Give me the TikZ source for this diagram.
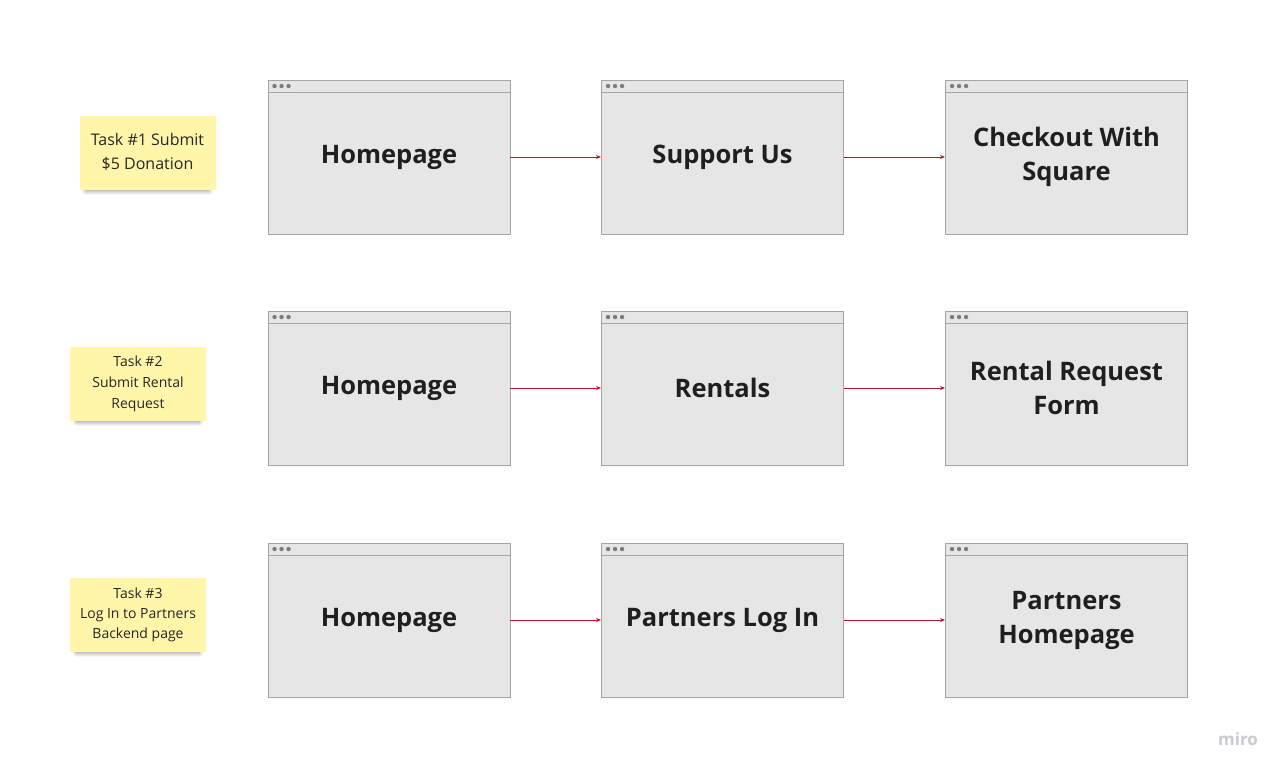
\documentclass[tikz,border=0pt]{standalone}
\usepackage{fontspec}
\setmainfont{Open Sans}
\usetikzlibrary{shadows.blur,arrows.meta}
\definecolor{pagegray}{RGB}{230,230,230}
\definecolor{framegray}{RGB}{165,165,165}
\definecolor{dotgray}{RGB}{125,125,125}
\definecolor{stickyyellow}{RGB}{255,246,170}
\definecolor{linkred}{RGB}{180,25,35}
\definecolor{mirogray}{RGB}{200,202,210}

\tikzset{
	page/.style={draw=framegray, fill=pagegray, line width=0.9pt, minimum width=242pt,
		minimum height=154pt, inner sep=0pt, align=center, text=black!88,
		font=\fontsize{25.5}{34}\selectfont\bfseries},
	sticky/.style={fill=stickyyellow, minimum width=136pt, minimum height=74pt, inner sep=2pt,
		align=center, text=black!85,
		blur shadow={shadow xshift=0pt, shadow yshift=-5pt, shadow scale=0.9,
			shadow opacity=45, shadow blur radius=5pt, shadow blur steps=12}},
	link/.style={draw=linkred, line width=0.8pt, -{Stealth[length=5pt,width=4pt]}}
}

\begin{document}
\begin{tikzpicture}[x=1pt,y=-1pt]
	\useasboundingbox (0,0) rectangle (1288,776);
	% task notes
	\node[sticky, font=\fontsize{16}{24}\selectfont] (task1) at (147.5,153) {Task \#1 Submit\\\$5 Donation\vphantom{p}};
	\node[sticky, font=\fontsize{14}{21}\selectfont] (task2) at (138,384) {Task \#2\\Submit Rental\\Request};
	\node[sticky, font=\fontsize{14}{20}\selectfont] (task3) at (138,615) {Task \#3\\Log In to Partners\\Backend page};
	% row 1
	\node[page] (home1) at (389,157) {Homepage};
	\node[page] (support) at (722.5,157) {Support Us};
	\node[page] (checkout) at (1066.5,157) {Checkout With\\Square};
	% row 2
	\node[page] (home2) at (389,388) {Homepage};
	\node[page] (rentals) at (722.5,388) {Rentals};
	\node[page] (form) at (1066.5,388) {Rental Request\\Form};
	% row 3
	\node[page] (home3) at (389,620) {Homepage};
	\node[page] (login) at (722.5,620) {Partners Log In};
	\node[page] (partners) at (1066.5,620) {Partners\\Homepage};
	% browser bars
	\foreach \p in {home1,support,checkout,home2,rentals,form,home3,login,partners}{
		\draw[framegray, line width=0.9pt] ([yshift=-13pt]\p.north west) -- ([yshift=-13pt]\p.north east);
		\foreach \dx in {7,14,21}
			\fill[dotgray] ([xshift=\dx pt,yshift=-6.5pt]\p.north west) circle (2.2pt);
	}
	% links
	\draw[link] (home1) -- (support);
	\draw[link] (support) -- (checkout);
	\draw[link] (home2) -- (rentals);
	\draw[link] (rentals) -- (form);
	\draw[link] (home3) -- (login);
	\draw[link] (login) -- (partners);
	\node[text=mirogray, font=\fontsize{17}{20}\selectfont\bfseries] (miro) at (1238,739) {miro};
\end{tikzpicture}
\end{document}
